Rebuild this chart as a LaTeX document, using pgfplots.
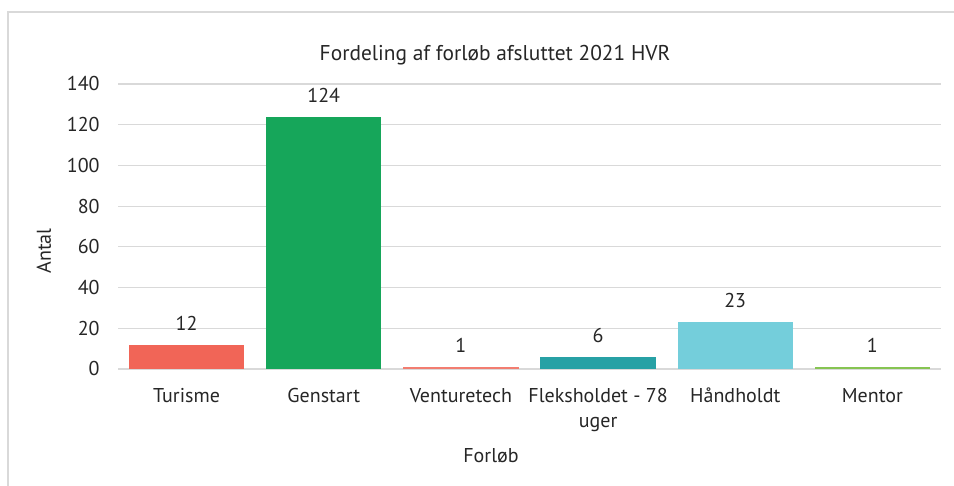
\documentclass[border=0pt]{standalone}
\usepackage{pgfplots}
\pgfplotsset{compat=1.18}
\usepackage{fontspec}
\setmainfont{PT Sans}
\definecolor{cA}{HTML}{F16557}
\definecolor{cB}{HTML}{16A65A}
\definecolor{cC}{HTML}{F27D70}
\definecolor{cD}{HTML}{27A1A5}
\definecolor{cE}{HTML}{74CEDB}
\definecolor{cF}{HTML}{86C452}
\definecolor{gridc}{HTML}{D9D9D9}
\definecolor{txt}{HTML}{262626}
\begin{document}
\begin{tikzpicture}[x=0.5pt,y=0.5pt]
\useasboundingbox (0,0) rectangle (954,486);
\draw[gridc, line width=0.6pt] (8,-10) -- (8,474) -- (970,474);
\node[font=\fontsize{10.7}{12}\selectfont, text=txt] at (495,431) {Fordeling af forløb afsluttet 2021 HVR};
\node[font=\fontsize{10}{12}\selectfont, text=txt, rotate=90] at (44,235) {Antal};
\node[font=\fontsize{10}{12}\selectfont, text=txt] at (491,30) {Forløb};
\begin{axis}[
  at={(59pt,58.5pt)}, anchor=south west,
  scale only axis, width=411.5pt, height=142.5pt,
  ymin=0, ymax=140, ytick={0,20,...,140},
  xmin=-0.5, xmax=5.5,
  xtick={0,1,2,3,4,5},
  xticklabels={\strut Turisme,\strut Genstart,\strut Venturetech,{\strut Fleksholdet - 78\\uger},\strut Håndholdt,\strut Mentor},
  /pgf/number format/assume math mode=true,
  axis line style={draw=none},
  ymajorgrids, grid style={gridc, line width=0.6pt},
  major tick length=0pt,
  ticklabel style={font=\fontsize{10}{12.5}\selectfont, text=txt},
  yticklabel style={inner sep=0pt, anchor=east, xshift=-9pt},
  xticklabel style={inner sep=0pt, anchor=north, yshift=-7.7pt, align=center},
  ybar, bar width=0.84, bar shift=0pt,
  nodes near coords,
  every node near coord/.append style={font=\fontsize{10}{12}\selectfont, text=txt, inner sep=0pt, anchor=south, yshift=7pt},
  clip=false,
]
\addplot[fill=cA, draw=none] coordinates {(0,12)};
\addplot[fill=cB, draw=none] coordinates {(1,124)};
\addplot[fill=cC, draw=none] coordinates {(2,1)};
\addplot[fill=cD, draw=none] coordinates {(3,6)};
\addplot[fill=cE, draw=none] coordinates {(4,23)};
\addplot[fill=cF, draw=none] coordinates {(5,1)};
\end{axis}
\end{tikzpicture}
\end{document}
